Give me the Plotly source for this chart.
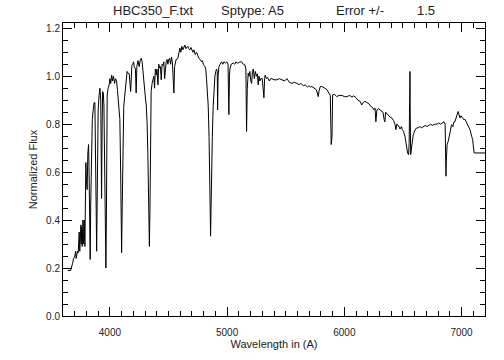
import plotly.graph_objects as go

# Wavelength (Angstrom) and normalized flux
wavelength = [
    3640, 3665, 3682, 3690, 3701, 3708, 3712, 3718, 3724, 3730, 3734, 3738, 3743, 3748,
    3753, 3756, 3759, 3764, 3770, 3775, 3781, 3787, 3795, 3800, 3806, 3812, 3818, 3822,
    3828, 3832, 3836, 3844, 3850, 3858, 3865, 3872, 3878, 3883, 3887, 3891, 3900, 3908,
    3915, 3922, 3929, 3934, 3938, 3944, 3949, 3957, 3963, 3966, 3970, 3977, 3985, 3994,
    4000, 4007, 4015, 4022, 4030, 4040, 4047, 4057, 4065, 4071, 4080, 4085, 4092, 4100,
    4105, 4111, 4118, 4125, 4132, 4139, 4147, 4154, 4165, 4177, 4182, 4188, 4195, 4202,
    4208, 4218, 4224, 4230, 4240, 4250, 4260, 4267, 4275, 4282, 4290, 4296, 4305, 4310,
    4318, 4324, 4330, 4337, 4342, 4347, 4352, 4360, 4367, 4375, 4381, 4388, 4395, 4402,
    4410, 4417, 4424, 4431, 4438, 4445, 4452, 4460, 4467, 4474, 4480, 4488, 4495, 4502,
    4509, 4518, 4525, 4533, 4546, 4552, 4557, 4565, 4572, 4580, 4590, 4597, 4605, 4614,
    4622, 4631, 4640, 4648, 4657, 4665, 4673, 4683, 4692, 4700, 4708, 4717, 4728, 4740,
    4750, 4759, 4770, 4782, 4790, 4797, 4811, 4818, 4825, 4832, 4839, 4846, 4853, 4859,
    4863, 4867, 4874, 4881, 4888, 4896, 4903, 4910, 4916, 4919, 4923, 4930, 4940, 4953,
    4963, 4973, 4985, 4998, 5008, 5015, 5020, 5024, 5035, 5052, 5065, 5075, 5085, 5095,
    5110, 5124, 5138, 5152, 5160, 5166, 5172, 5180, 5187, 5194, 5202, 5209, 5216, 5223,
    5232, 5241, 5250, 5258, 5265, 5272, 5280, 5288, 5300, 5306, 5314, 5320, 5325, 5335,
    5345, 5360, 5372, 5382, 5400, 5425, 5445, 5468, 5490, 5510, 5530, 5553, 5575, 5595,
    5615, 5630, 5650, 5666, 5685, 5698, 5712, 5723, 5740, 5758, 5770, 5777, 5785, 5795,
    5809, 5822, 5834, 5850, 5866, 5880, 5888, 5895, 5900, 5915, 5935, 5955, 5980, 6000,
    6022, 6045, 6065, 6080, 6100, 6116, 6135, 6148, 6160, 6175, 6193, 6210, 6225, 6240,
    6252, 6262, 6269, 6278, 6290, 6305, 6318, 6329, 6340, 6346, 6352, 6370, 6389, 6405,
    6420, 6432, 6440, 6447, 6460, 6475, 6487, 6495, 6505, 6517, 6530, 6540, 6548, 6553,
    6557, 6560, 6562, 6566, 6570, 6580, 6588, 6602, 6616, 6630, 6645, 6660, 6675, 6690,
    6705, 6720, 6735, 6750, 6773, 6790, 6805, 6820, 6835, 6850, 6860, 6865, 6867, 6870,
    6877, 6886, 6901, 6915, 6926, 6935, 6943, 6957, 6965, 6971, 6978, 6986, 6995, 7000,
    7010, 7020, 7030, 7040, 7050, 7060, 7072, 7086, 7095, 7100, 7108, 7200,
]
flux = [
    0.19, 0.19, 0.22, 0.24, 0.25, 0.27, 0.24, 0.26, 0.27, 0.264, 0.30, 0.35, 0.27, 0.32,
    0.38, 0.30, 0.37, 0.29, 0.40, 0.30, 0.40, 0.29, 0.64, 0.56, 0.527, 0.68, 0.715, 0.62,
    0.40, 0.236, 0.45, 0.777, 0.82, 0.86, 0.89, 0.89, 0.72, 0.45, 0.27, 0.50, 0.86, 0.92,
    0.95, 0.90, 0.49, 0.80, 0.936, 0.93, 0.88, 0.60, 0.35, 0.20, 0.40, 0.922, 0.95, 0.964,
    0.99, 0.97, 1.005, 0.98, 1.00, 0.97, 0.99, 0.98, 0.94, 0.89, 0.84, 0.82, 0.60, 0.264,
    0.45, 0.81, 0.87, 0.91, 0.95, 1.00, 1.02, 1.013, 1.01, 0.936, 1.02, 1.047, 1.05, 1.06,
    1.04, 1.03, 0.93, 1.04, 1.065, 1.04, 1.07, 1.075, 1.06, 1.02, 0.96, 0.922, 0.90, 0.88,
    0.80, 0.673, 0.45, 0.29, 0.45, 0.673, 0.936, 0.97, 0.98, 1.00, 0.95, 1.03, 1.005, 1.03,
    0.964, 1.05, 1.034, 1.04, 0.985, 1.05, 1.045, 1.06, 0.99, 1.06, 1.06, 1.07, 1.05, 1.07,
    1.075, 1.05, 1.08, 1.06, 0.93, 1.04, 1.06, 1.07, 1.07, 1.075, 1.10, 1.117, 1.10, 1.125,
    1.11, 1.12, 1.13, 1.115, 1.12, 1.125, 1.115, 1.11, 1.12, 1.11, 1.10, 1.11, 1.09, 1.10,
    1.08, 1.075, 1.07, 1.06, 1.065, 1.05, 1.04, 1.03, 0.985, 0.93, 0.874, 0.75, 0.597, 0.333,
    0.45, 0.597, 0.75, 0.874, 0.95, 1.00, 1.02, 1.03, 1.02, 0.86, 1.00, 1.04, 1.05, 1.06,
    1.05, 1.06, 1.055, 1.06, 1.05, 0.84, 1.00, 1.03, 1.05, 1.055, 1.05, 1.06, 1.055, 1.055,
    1.06, 1.06, 1.05, 1.047, 1.03, 0.77, 0.95, 1.013, 1.00, 1.02, 0.98, 0.97, 1.02, 1.03,
    0.99, 1.02, 1.00, 1.01, 0.964, 1.00, 0.98, 0.99, 0.99, 0.96, 0.91, 0.99, 1.005, 0.99,
    0.995, 0.98, 0.99, 0.99, 0.985, 0.985, 0.99, 0.985, 0.98, 0.99, 0.975, 0.97, 0.975, 0.97,
    0.965, 0.97, 0.96, 0.964, 0.955, 0.96, 0.955, 0.957, 0.95, 0.945, 0.93, 0.915, 0.94, 0.957,
    0.957, 0.955, 0.95, 0.945, 0.93, 0.92, 0.715, 0.75, 0.922, 0.925, 0.915, 0.92, 0.92, 0.915,
    0.915, 0.92, 0.913, 0.918, 0.91, 0.90, 0.895, 0.88, 0.89, 0.895, 0.89, 0.885, 0.875, 0.87,
    0.86, 0.867, 0.81, 0.86, 0.865, 0.86, 0.855, 0.85, 0.818, 0.81, 0.85, 0.84, 0.83, 0.826,
    0.815, 0.80, 0.777, 0.80, 0.795, 0.78, 0.79, 0.777, 0.77, 0.75, 0.707, 0.68, 0.673, 0.72,
    0.90, 1.02, 0.85, 0.673, 0.69, 0.74, 0.756, 0.775, 0.784, 0.785, 0.79, 0.785, 0.79, 0.795,
    0.79, 0.795, 0.80, 0.795, 0.80, 0.80, 0.805, 0.80, 0.805, 0.81, 0.80, 0.70, 0.583, 0.65,
    0.715, 0.728, 0.763, 0.798, 0.79, 0.81, 0.81, 0.83, 0.84, 0.853, 0.84, 0.826, 0.835, 0.83,
    0.825, 0.818, 0.82, 0.81, 0.80, 0.79, 0.777, 0.75, 0.735, 0.71, 0.68, 0.68,
]

x_range = [3600, 7200]
y_range = [0.0, 1.222]
x_ticks = [4000, 5000, 6000, 7000]
y_ticks = [0.0, 0.2, 0.4, 0.6, 0.8, 1.0, 1.2]
y_tick_labels = ["0.0", "0.2", "0.4", "0.6", "0.8", "1.0", "1.2"]
title_parts = ["HBC350_F.txt", "Sptype: A5", "Error +/-", "1.5"]

FONT = "Liberation Sans, Arial, sans-serif"

fig = go.Figure()
fig.add_trace(go.Scatter(
    x=wavelength, y=flux, mode="lines",
    line=dict(color="black", width=1),
    showlegend=False, hoverinfo="skip",
))

axis_common = dict(
    showline=True, linecolor="black", linewidth=1, mirror="allticks",
    ticks="inside", ticklen=9, tickwidth=1, tickcolor="black",
    showgrid=False, zeroline=False,
    tickfont=dict(family=FONT, size=10, color="#222"),
)

fig.update_xaxes(
    range=x_range, tickmode="array", tickvals=x_ticks,
    ticktext=[str(t) for t in x_ticks],
    minor=dict(ticks="inside", ticklen=5, dtick=100, tick0=3600, tickcolor="black", showgrid=False),
    title=dict(text="Wavelength in (A)", font=dict(family=FONT, size=11, color="#222"), standoff=2),
    ticklabelstandoff=7,
    **axis_common,
)
fig.update_yaxes(
    range=y_range, tickmode="array", tickvals=y_ticks, ticktext=y_tick_labels,
    minor=dict(ticks="inside", ticklen=5, dtick=0.05, tick0=0, tickcolor="black", showgrid=False),
    title=dict(text="Normalized Flux", font=dict(family=FONT, size=11, color="#222"), standoff=6),
    ticklabelstandoff=0,
    **axis_common,
)

# Title pieces, spaced as in the reference
title_x = [153, 252, 360, 426]
for txt, px in zip(title_parts, title_x):
    fig.add_annotation(
        text=txt, x=(px - 63) / (485 - 63), xref="paper", y=1.0, yref="paper",
        yshift=13, showarrow=False, xanchor="center", yanchor="middle",
        font=dict(family=FONT, size=13, color="#222"),
    )

fig.update_layout(
    width=504, height=360,
    margin=dict(l=63, r=19, t=23, b=42),
    paper_bgcolor="white", plot_bgcolor="white",
)

# remove the browser's default 8px page margin so the figure fills the window
fig.write_html(
    "out.html",
    config={"displayModeBar": False, "staticPlot": True},
    post_script="document.body.style.margin='0px';",
)
